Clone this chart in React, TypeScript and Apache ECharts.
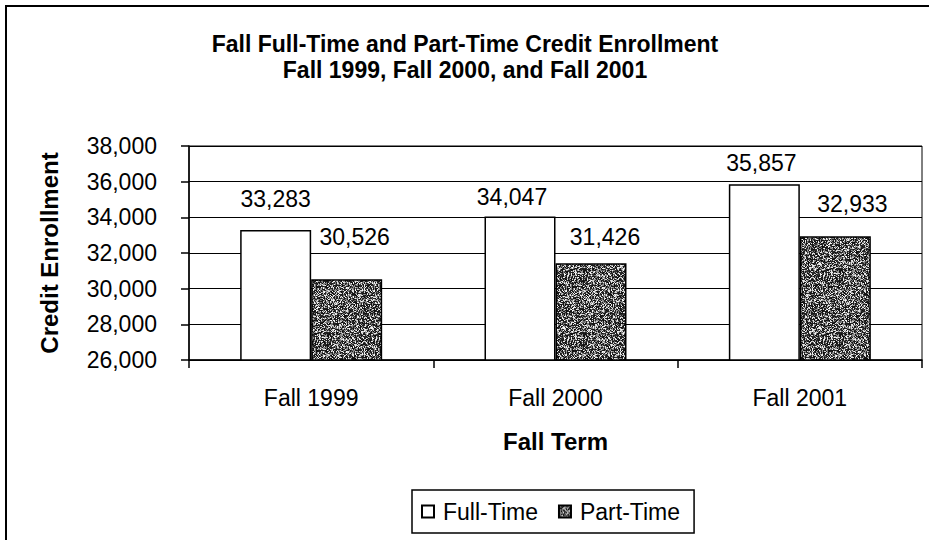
import React, { useEffect, useRef } from "react";
import * as echarts from "echarts";

const categories = ["Fall 1999", "Fall 2000", "Fall 2001"];
const fullTime = [33283, 34047, 35857];
const partTime = [30526, 31426, 32933];
const yMin = 26000;
const yMax = 38000;
const yInterval = 2000;

const titleText = "Fall Full-Time and Part-Time Credit Enrollment\nFall 1999, Fall 2000, and Fall 2001";
const yName = "Credit Enrollment";
const xName = "Fall Term";

// label placement styles (hand-placed in the original)
const ftLabelOffsets = [[0, -15], [-8, -3], [-3, -5]];
const ptLabelOffsets = [[8, -26], [14, -10], [17, -16]];

const FONT = "Liberation Sans, Arial, sans-serif";

function makeTexture(): HTMLCanvasElement {
  const size = 64;
  const c = document.createElement("canvas");
  c.width = size;
  c.height = size;
  const ctx = c.getContext("2d")!;
  const img = ctx.createImageData(size, size);
  for (let y = 0; y < size; y++) {
    for (let x = 0; x < size; x++) {
      const s = Math.sin(x * 12.9898 + y * 78.233) * 43758.5453;
      const f = s - Math.floor(s);
      const s2 = Math.sin(x * 3.17 + y * 5.91) * 9173.13;
      const f2 = s2 - Math.floor(s2);
      let g: number;
      if (f < 0.5) g = 10 + f2 * 40;
      else if (f < 0.78) g = 100 + f2 * 60;
      else g = 200 + f2 * 55;
      const i = (y * size + x) * 4;
      img.data[i] = g;
      img.data[i + 1] = g;
      img.data[i + 2] = g;
      img.data[i + 3] = 255;
    }
  }
  ctx.putImageData(img, 0, 0);
  return c;
}

const fmt = (v: number) => v.toLocaleString("en-US");

export default function App() {
  const ref = useRef<HTMLDivElement>(null);
  useEffect(() => {
    if (!ref.current) return;
    const chart = echarts.init(ref.current, null, { renderer: "svg" });
    const tex = makeTexture();
    const pattern: any = {
      image: tex.toDataURL(),
      repeat: "repeat",
      imageWidth: 64,
      imageHeight: 64,
    };
    const labelBase = {
      show: true,
      position: "top" as const,
      color: "#000",
      fontSize: 23,
      fontFamily: FONT,
      formatter: (p: any) => fmt(p.value),
    };
    chart.setOption({
      animation: false,
      backgroundColor: "#fff",
      title: {
        text: titleText,
        left: 460,
        top: 26,
        textAlign: "center",
        textStyle: {
          fontFamily: FONT,
          fontWeight: "bold",
          fontSize: 23,
          lineHeight: 26,
          color: "#000",
        },
      },
      grid: { left: 189, right: 7, top: 146, bottom: 180, show: true, borderColor: "#000", borderWidth: 1 },
      legend: {
        left: 412,
        top: 490,
        itemWidth: 12,
        itemHeight: 12,
        itemGap: 20,
        padding: [10, 14, 10, 9],
        borderColor: "#000",
        borderWidth: 1.5,
        icon: "rect",
        textStyle: { fontFamily: FONT, fontSize: 23, color: "#000", padding: [0, 0, 0, 4] },
        data: ["Full-Time", "Part-Time"],
      },
      xAxis: {
        type: "category",
        data: categories,
        name: xName,
        nameLocation: "middle",
        nameGap: 69,
        nameTextStyle: { fontFamily: FONT, fontWeight: "bold", fontSize: 24, color: "#000" },
        axisLine: { lineStyle: { color: "#000", width: 1.5 } },
        axisTick: { show: true, length: 8, lineStyle: { color: "#000", width: 1.5 } },
        axisLabel: { fontFamily: FONT, fontSize: 23, color: "#000", margin: 26 },
      },
      yAxis: {
        type: "value",
        min: yMin,
        max: yMax,
        interval: yInterval,
        name: yName,
        nameLocation: "middle",
        nameGap: 128,
        nameTextStyle: { fontFamily: FONT, fontWeight: "bold", fontSize: 24, color: "#000" },
        axisLine: { show: true, lineStyle: { color: "#000", width: 1.5 } },
        axisTick: { show: true, length: 8, lineStyle: { color: "#000", width: 1.5 } },
        axisLabel: { fontFamily: FONT, fontSize: 23, color: "#000", margin: 32, formatter: (v: number) => fmt(v) },
        splitLine: { show: true, lineStyle: { color: "#000", width: 1 } },
      },
      series: [
        {
          name: "Full-Time",
          type: "bar",
          barWidth: 71,
          barGap: "0%",
          itemStyle: { color: "#fff", borderColor: "#000", borderWidth: 1.5 },
          data: fullTime.map((v, i) => ({ value: v, label: { ...labelBase, offset: ftLabelOffsets[i] } })),
        },
        {
          name: "Part-Time",
          type: "bar",
          barWidth: 71,
          barGap: "0%",
          itemStyle: { color: pattern, borderColor: "#000", borderWidth: 1.5 },
          data: partTime.map((v, i) => ({ value: v, label: { ...labelBase, offset: ptLabelOffsets[i] } })),
        },
      ],
      graphic: [
        {
          type: "polyline",
          shape: { points: [[6, 540], [6, 6], [929, 6]] },
          style: { stroke: "#000", lineWidth: 2, fill: null },
          silent: true,
        },
      ],
    });
    return () => chart.dispose();
  }, []);
  return <div ref={ref} style={{ position: "absolute", left: 0, top: 0, width: 929, height: 540 }} />;
}
